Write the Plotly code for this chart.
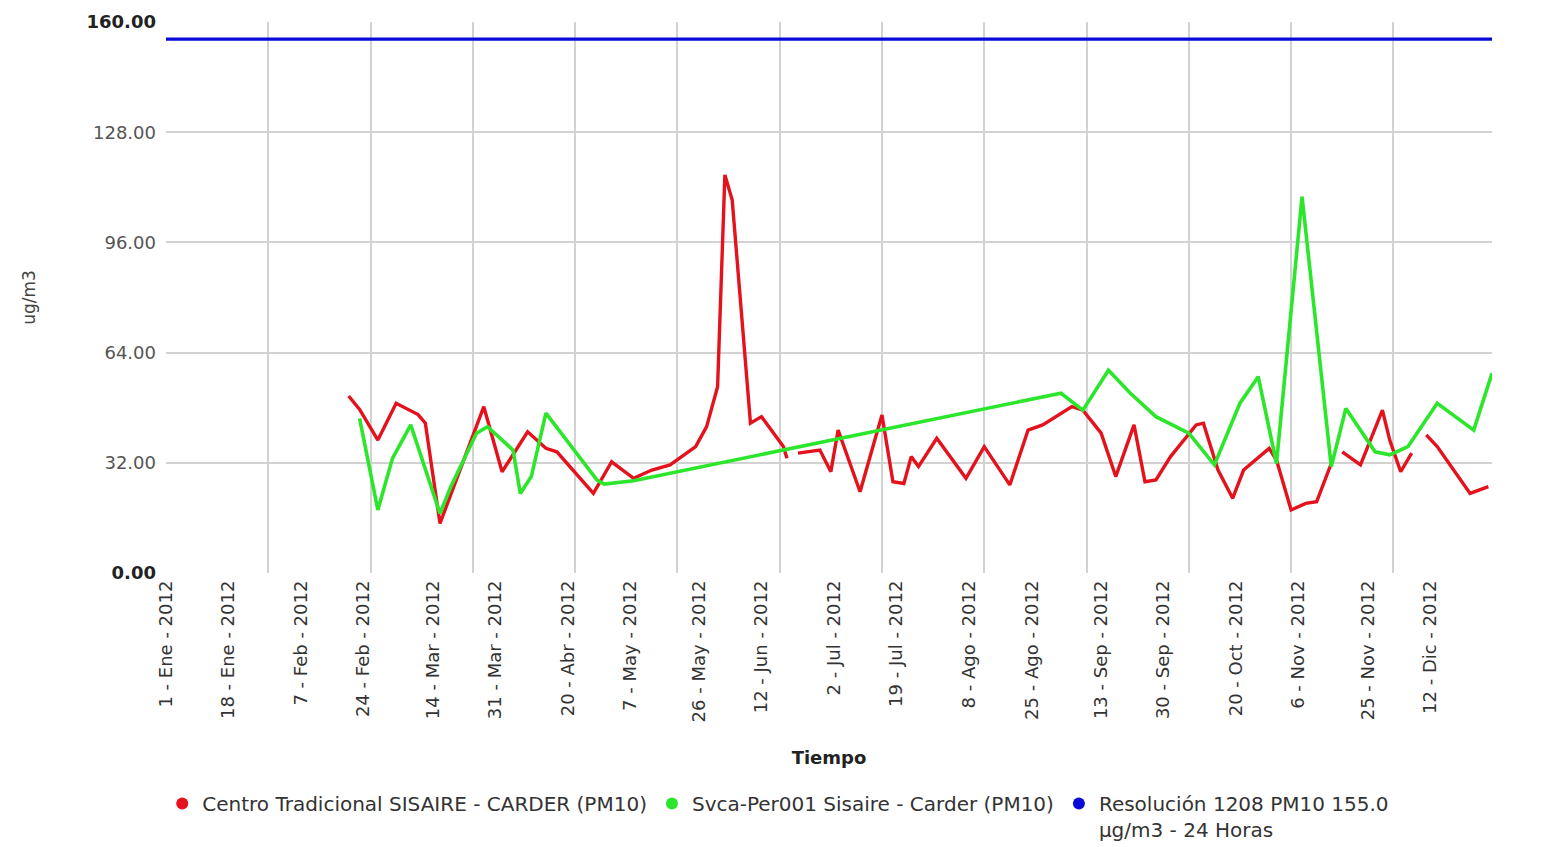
import plotly.graph_objects as go

# ---------------- data ----------------
red_name = "Centro Tradicional SISAIRE - CARDER (PM10)"
red_dates = [
    "2012-02-20", "2012-02-23", "2012-02-28", "2012-03-04", "2012-03-10", "2012-03-12",
    "2012-03-16", "2012-03-28", "2012-04-02", "2012-04-09", "2012-04-14", "2012-04-17",
    "2012-04-27", "2012-05-02", "2012-05-08", "2012-05-13", "2012-05-18", "2012-05-25",
    "2012-05-28", "2012-05-31", "2012-06-02", "2012-06-04", "2012-06-09", "2012-06-12",
    "2012-06-18", "2012-06-19", "2012-06-20", "2012-06-22", "2012-06-28", "2012-07-01",
    "2012-07-03", "2012-07-09", "2012-07-15", "2012-07-18", "2012-07-21", "2012-07-23",
    "2012-07-25", "2012-07-30", "2012-08-07", "2012-08-12", "2012-08-19", "2012-08-24",
    "2012-08-28", "2012-09-05", "2012-09-08", "2012-09-13", "2012-09-17", "2012-09-22",
    "2012-09-25", "2012-09-28", "2012-10-02", "2012-10-09", "2012-10-11", "2012-10-15",
    "2012-10-19", "2012-10-22", "2012-10-29", "2012-10-31", "2012-11-04", "2012-11-08",
    "2012-11-11", "2012-11-15", "2012-11-16", "2012-11-18", "2012-11-23", "2012-11-29",
    "2012-12-01", "2012-12-04", "2012-12-07", "2012-12-09", "2012-12-11", "2012-12-14",
    "2012-12-23", "2012-12-28",
]
red_values = [
    51.4, 47.5, 38.6, 49.3, 46.0, 43.5,
    14.4, 48.3, 29.4, 41.0, 36.2, 35.2,
    23.1, 32.3, 27.5, 29.9, 31.4, 36.7,
    42.5, 54.1, 115.6, 108.3, 43.5, 45.4,
    36.7, 33.3, None, 34.8, 35.7, 29.4,
    41.5, 23.6, 45.9, 26.5, 26.0, 33.8,
    30.9, 39.1, 27.5, 36.7, 25.6, 41.5,
    43.0, 48.3, 47.3, 40.6, 28.0, 43.0,
    26.5, 27.0, 33.8, 43.0, 43.5, 29.9,
    21.7, 29.9, 36.2, 32.8, 18.3, 20.2,
    20.7, 31.8, None, 35.2, 31.4, 47.3,
    38.6, 29.4, 34.8, None, 40.1, 36.7,
    23.1, 25.1,
]

green_name = "Svca-Per001 Sisaire - Carder (PM10)"
green_dates = [
    "2012-02-23", "2012-02-28", "2012-03-03", "2012-03-08", "2012-03-16", "2012-03-19",
    "2012-03-26", "2012-03-29", "2012-04-05", "2012-04-07", "2012-04-10", "2012-04-14",
    "2012-04-28", "2012-04-30", "2012-05-08", "2012-09-02", "2012-09-08", "2012-09-15",
    "2012-09-21", "2012-09-28", "2012-10-07", "2012-10-14", "2012-10-21", "2012-10-26",
    "2012-10-31", "2012-11-07", "2012-11-15", "2012-11-19", "2012-11-27", "2012-12-01",
    "2012-12-06", "2012-12-14", "2012-12-24", "2012-12-29",
]
green_values = [
    44.9, 18.3, 33.3, 43.0, 17.3, 25.1,
    40.6, 42.5, 35.7, 23.1, 28.0, 46.4,
    27.0, 25.8, 26.8, 52.2, 47.3, 58.9,
    52.2, 45.4, 40.6, 31.4, 49.3, 57.0,
    31.8, 109.3, 30.9, 47.8, 35.2, 34.3,
    36.7, 49.3, 41.5, 58.0,
]

blue_name = "Resolución 1208 PM10 155.0<br>µg/m3 - 24 Horas"
limit_dates = ["2012-01-01", "2012-12-29"]
limit_values = [155.0, 155.0]

tick_dates = [
    "2012-01-01", "2012-01-18", "2012-02-07", "2012-02-24", "2012-03-14",
    "2012-03-31", "2012-04-20", "2012-05-07", "2012-05-26", "2012-06-12",
    "2012-07-02", "2012-07-19", "2012-08-08", "2012-08-25", "2012-09-13",
    "2012-09-30", "2012-10-20", "2012-11-06", "2012-11-25", "2012-12-12",
]
tick_labels = [
    "1 - Ene - 2012", "18 - Ene - 2012", "7 - Feb - 2012", "24 - Feb - 2012",
    "14 - Mar - 2012", "31 - Mar - 2012", "20 - Abr - 2012", "7 - May - 2012",
    "26 - May - 2012", "12 - Jun - 2012", "2 - Jul - 2012", "19 - Jul - 2012",
    "8 - Ago - 2012", "25 - Ago - 2012", "13 - Sep - 2012", "30 - Sep - 2012",
    "20 - Oct - 2012", "6 - Nov - 2012", "25 - Nov - 2012", "12 - Dic - 2012",
]
grid_dates = [
    "2012-01-29", "2012-02-26", "2012-03-25", "2012-04-22", "2012-05-20",
    "2012-06-17", "2012-07-15", "2012-08-12", "2012-09-09", "2012-10-07",
    "2012-11-04", "2012-12-02",
]
y_tick_values = [0, 32, 64, 96, 128, 160]
y_tick_labels = ["<b style='color:#222'>0.00</b>", "32.00", "64.00", "96.00",
                 "128.00", "<b style='color:#222'>160.00</b>"]
y_grid_values = [32, 64, 96, 128]

RED = "#e3121c"
GREEN = "#2ce62c"
BLUE = "#0a0ad8"
FONT = "DejaVu Sans"

# the page body adds an 8px offset; the figure is sized to fit the window
W, H = 1556, 839

# ---------------- figure ----------------
fig = go.Figure()

fig.add_trace(go.Scatter(x=red_dates, y=red_values, mode="lines", name=red_name,
                         line=dict(color=RED, width=3.4), connectgaps=False,
                         legendgroup="r", showlegend=False))
fig.add_trace(go.Scatter(x=green_dates, y=green_values, mode="lines", name=green_name,
                         line=dict(color=GREEN, width=3.6),
                         legendgroup="g", showlegend=False))
fig.add_trace(go.Scatter(x=limit_dates, y=limit_values, mode="lines", name=blue_name,
                         line=dict(color=BLUE, width=3.2),
                         legendgroup="b", showlegend=False))

# legend entries shown as dots
for nm, col, grp in [(red_name, RED, "r"), (green_name, GREEN, "g"), (blue_name, BLUE, "b")]:
    fig.add_trace(go.Scatter(x=[None], y=[None], mode="markers", name=nm,
                             marker=dict(color=col, size=12), legendgroup=grp,
                             showlegend=True))

fig.update_layout(
    width=W, height=H,
    margin=dict(l=158, r=72, t=14, b=274, autoexpand=False),
    paper_bgcolor="white", plot_bgcolor="white",
    font=dict(family=FONT, color="#333"),
    showlegend=True,
    legend=dict(orientation="h", xref="container", yref="container",
                x=0.495, xanchor="center", y=1 - 776 / H, yanchor="top",
                font=dict(size=20, color="#333", family=FONT),
                valign="top", itemwidth=30, tracegroupgap=0,
                bgcolor="rgba(0,0,0,0)"),
    xaxis=dict(
        type="date",
        range=["2012-01-01", "2012-12-29"],
        tickmode="array", tickvals=tick_dates, ticktext=tick_labels,
        tickangle=-90, tickfont=dict(size=18, color="#333", family=FONT),
        ticks="", showgrid=False, zeroline=False, showline=False,
        ticklabelstandoff=3,
        minor=dict(tickmode="array", tickvals=grid_dates, showgrid=True,
                   gridcolor="#d2d2d2", gridwidth=1.5, ticks=""),
        title=dict(text="<b>Tiempo</b>", font=dict(size=18, color="#222", family=FONT),
                   standoff=29),
    ),
    yaxis=dict(
        range=[0, 160],
        tickmode="array", tickvals=y_tick_values, ticktext=y_tick_labels,
        tickfont=dict(size=18, color="#555", family=FONT),
        ticks="", showgrid=False, zeroline=False, showline=False,
        ticklabelstandoff=9,
        minor=dict(tickmode="array", tickvals=y_grid_values, showgrid=True,
                   gridcolor="#d2d2d2", gridwidth=1.5, ticks=""),
        title=dict(text="ug/m3", font=dict(size=17, color="#444", family=FONT),
                   standoff=46),
    ),
)

fig.write_html("out.html")
